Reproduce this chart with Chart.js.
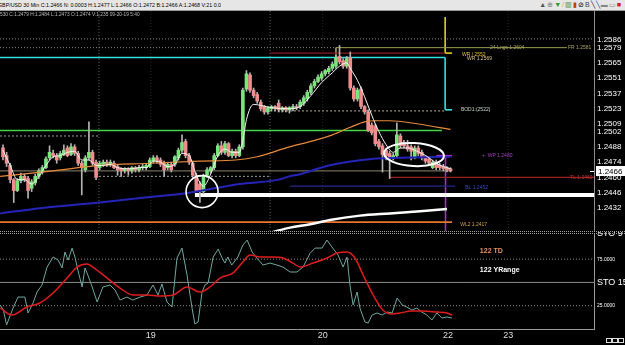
<!DOCTYPE html>
<html>
<head>
<meta charset="utf-8">
<script src="https://cdn.jsdelivr.net/npm/chart.js@4.4.0/dist/chart.umd.min.js"></script>
<style>
  body { margin: 0; background: #000; width: 625px; height: 345px; overflow: hidden; position: relative; font-family: "Liberation Sans", Arial, sans-serif; }
  #toolbar { position: absolute; left: 0; top: 0; width: 625px; height: 10px; background: #e6e6e6; border-bottom: 1px solid #9a9a9a; }
  #quote { position: absolute; left: -2px; top: 2px; font-size: 5.3px; color: #000; white-space: nowrap; }
  #icons { position: absolute; right: 4px; top: 0px; font-size: 7px; line-height: 10px; white-space: nowrap; }
  #icons span { margin-left: 1px; }
  #info { position: absolute; left: 0; top: 12px; font-size: 4.8px; color: #bbb; white-space: nowrap; z-index: 3; }
  #price { position: absolute; left: 0; top: 11px; }
  #osc { position: absolute; left: 0; top: 232px; }
  #split { position: absolute; left: 0; top: 231px; width: 625px; height: 1px; border-top: 1px dotted #a0a0a0; border-bottom: 1px dotted #a0a0a0; z-index: 2; }
  #boxes { position: absolute; left: 606px; top: 329px; z-index: 2; }
  #boxes i { display: inline-block; width: 4px; height: 3px; border: 1px solid #ddd; margin-right: 0px; }
</style>
</head>
<body>
<div id="toolbar">
  <div id="quote">GBP/USD 30 Min C:1.2466 N: 0.0003 H:1.2477 L:1.2466 O:1.2472 B:1.2466 A:1.2468 V:21 0.0</div>
  <div id="icons"><span style="color:#555">&#9650;</span><span style="color:#777">&#8853;</span><span style="color:#2a9a2a">&#9660;</span><span style="color:#d8b000">/</span><span style="color:#3a8a3a">&#9637;</span><span style="color:#c04000">&#9646;</span><span style="color:#000">&#8856;</span><span style="color:#444">B</span><span style="color:#222">&#9586;</span><span style="color:#2040c0">&#9586;</span><span style="color:#888">&#9644;</span><span style="color:#888">&#9645;</span><span style="color:#d02020">&#9632;</span></div>
</div>
<div id="info">530 C:1.2479 H:1.2484 L:1.2473 O:1.2474 V:1,235 09-20-19 5:40</div>
<canvas id="price" width="625" height="220"></canvas>
<div id="split"></div>
<canvas id="osc" width="625" height="113"></canvas>
<div id="boxes"><i></i><i></i><i></i></div>

<script>
// Candles, one per 30 min bar (bar number = position in the arrays)
const openP = [1.2487,1.2480,1.2471,1.2458,1.2448,1.2457,1.2461,1.2459,1.2450,1.2455,1.2461,1.2465,1.2469,1.2478,1.2482,1.2480,1.2478,1.2481,1.2487,1.2481,
  1.2488,1.2482,1.2473,1.2467,1.2478,1.2483,1.2474,1.2469,1.2472,1.2474,1.2472,1.2473,1.2470,1.2468,1.2466,1.2468,1.2466,1.2469,1.2467,1.2469,
  1.2469,1.2470,1.2475,1.2478,1.2476,1.2473,1.2469,1.2472,1.2472,1.2478,1.2485,1.2493,1.2480,1.2473,1.2462,1.2454,1.2447,1.2462,1.2466,1.2469,
  1.2480,1.2489,1.2483,1.2491,1.2480,1.2484,1.2480,1.2488,1.2541,1.2554,1.2540,1.2536,1.2529,1.2525,1.2520,1.2523,1.2525,1.2528,1.2522,1.2524,
  1.2522,1.2523,1.2525,1.2525,1.2528,1.2532,1.2538,1.2544,1.2548,1.2551,1.2555,1.2557,1.2560,1.2562,1.2571,1.2567,1.2562,1.2570,1.2542,1.2532,
  1.2541,1.2525,1.2520,1.2508,1.2507,1.2493,1.2489,1.2485,1.2482,1.2478,1.2480,1.2498,1.2492,1.2489,1.2488,1.2479,1.2487,1.2483,1.2479,1.2477,
  1.2469,1.2474,1.2471,1.2470,1.2469,1.2468];
const highP = [1.2490,1.2483,1.2473,1.2459,1.2459,1.2464,1.2463,1.2461,1.2458,1.2463,1.2468,1.2471,1.2479,1.2489,1.2485,1.2482,1.2484,1.2490,1.2489,1.2491,
  1.2490,1.2484,1.2475,1.2480,1.2511,1.2485,1.2476,1.2475,1.2476,1.2476,1.2476,1.2475,1.2472,1.2469,1.2469,1.2469,1.2470,1.2470,1.2471,1.2472,
  1.2473,1.2478,1.2480,1.2480,1.2478,1.2475,1.2474,1.2474,1.2480,1.2487,1.2499,1.2495,1.2482,1.2475,1.2464,1.2456,1.2463,1.2469,1.2470,1.2482,
  1.2491,1.2493,1.2493,1.2492,1.2486,1.2486,1.2490,1.2542,1.2558,1.2556,1.2542,1.2538,1.2531,1.2526,1.2525,1.2526,1.2526,1.2531,1.2525,1.2525,
  1.2525,1.2527,1.2527,1.2531,1.2535,1.2540,1.2546,1.2550,1.2554,1.2557,1.2559,1.2562,1.2566,1.2572,1.2581,1.2569,1.2571,1.2575,1.2544,1.2542,
  1.2543,1.2526,1.2522,1.2510,1.2509,1.2495,1.2491,1.2487,1.2484,1.2482,1.2510,1.2500,1.2494,1.2494,1.2490,1.2489,1.2489,1.2485,1.2480,1.2479,
  1.2476,1.2476,1.2473,1.2472,1.2470,1.2469];
const lowP = [1.2476,1.2470,1.2455,1.2437,1.2447,1.2455,1.2456,1.2441,1.2447,1.2453,1.2459,1.2463,1.2468,1.2476,1.2478,1.2473,1.2476,1.2480,1.2479,1.2480,
  1.2480,1.2471,1.2444,1.2465,1.2476,1.2471,1.2458,1.2467,1.2470,1.2470,1.2470,1.2468,1.2462,1.2461,1.2464,1.2462,1.2464,1.2465,1.2465,1.2467,
  1.2467,1.2469,1.2473,1.2473,1.2470,1.2461,1.2467,1.2465,1.2470,1.2476,1.2483,1.2478,1.2472,1.2460,1.2447,1.2437,1.2445,1.2460,1.2464,1.2467,
  1.2479,1.2481,1.2481,1.2479,1.2478,1.2478,1.2479,1.2486,1.2539,1.2538,1.2533,1.2528,1.2521,1.2518,1.2518,1.2521,1.2521,1.2520,1.2520,1.2520,
  1.2519,1.2521,1.2522,1.2523,1.2526,1.2530,1.2536,1.2542,1.2547,1.2549,1.2553,1.2555,1.2558,1.2560,1.2564,1.2560,1.2560,1.2540,1.2530,1.2530,
  1.2523,1.2518,1.2502,1.2499,1.2489,1.2486,1.2465,1.2476,1.2459,1.2476,1.2479,1.2487,1.2487,1.2484,1.2476,1.2477,1.2480,1.2476,1.2473,1.2471,
  1.2468,1.2467,1.2467,1.2466,1.2465,1.2465];
const closeP = [1.2479,1.2473,1.2458,1.2448,1.2457,1.2461,1.2458,1.2448,1.2456,1.2461,1.2466,1.2469,1.2477,1.2483,1.2480,1.2476,1.2482,1.2485,1.2480,1.2488,
  1.2482,1.2473,1.2469,1.2478,1.2483,1.2473,1.2460,1.2473,1.2474,1.2472,1.2474,1.2469,1.2467,1.2466,1.2468,1.2466,1.2469,1.2467,1.2469,1.2470,
  1.2471,1.2476,1.2478,1.2475,1.2472,1.2467,1.2472,1.2467,1.2479,1.2485,1.2492,1.2480,1.2474,1.2462,1.2448,1.2447,1.2461,1.2467,1.2469,1.2480,
  1.2489,1.2483,1.2491,1.2480,1.2484,1.2480,1.2488,1.2540,1.2555,1.2540,1.2535,1.2530,1.2523,1.2520,1.2524,1.2525,1.2523,1.2522,1.2524,1.2522,
  1.2524,1.2525,1.2524,1.2529,1.2533,1.2538,1.2544,1.2548,1.2552,1.2555,1.2558,1.2560,1.2564,1.2570,1.2566,1.2562,1.2569,1.2542,1.2532,1.2540,
  1.2525,1.2520,1.2503,1.2501,1.2491,1.2488,1.2481,1.2480,1.2478,1.2480,1.2499,1.2489,1.2489,1.2486,1.2484,1.2487,1.2482,1.2478,1.2475,1.2473,
  1.2474,1.2469,1.2469,1.2468,1.2467,1.2466];

// Moving averages, read as (bar, price) pairs
const fastMaBars = [0,2,4,6,8,10,12,14,16,18,20,22,24,26,28,30,32,34,36,38,40,42,44,46,48,50,52,54,56,58,60,62,64,66,67,68,70,72,75,80,
  83,86,89,92,94,96,97,99,101,103,105,107,109,111,113,115,117,119,121,123,125];
const fastMaVals = [1.2485,1.2471,1.2458,1.2458,1.2454,1.2461,1.2471,1.2479,1.2480,1.2483,1.2484,1.2476,1.2476,1.2471,1.2471,1.2472,1.2469,1.2468,1.2468,1.2469,
  1.2469,1.2475,1.2474,1.2470,1.2472,1.2482,1.2480,1.2462,1.2452,1.2463,1.2480,1.2486,1.2483,1.2483,1.2494,1.2513,1.2527,1.2526,1.2524,1.2523,
  1.2525,1.2535,1.2547,1.2556,1.2562,1.2565,1.2560,1.2549,1.2534,1.2517,1.2502,1.2490,1.2483,1.2487,1.2487,1.2485,1.2482,1.2478,1.2473,1.2470,1.2468];
const midMaBars = [-0.8,14,27,41,55,65,71,80,86,92,97,101,104,108,116,125];
const midMaVals = [1.2461,1.2466,1.2471,1.2473,1.2475,1.2476,1.2479,1.2488,1.2493,1.2499,1.2506,1.2511,1.2512,1.2512,1.2509,1.2504];
const blueMaBars = [-0.8,11,27,41,52,66,77,80,83,91,103,111,125];
const blueMaVals = [1.2427,1.2432,1.2437,1.2442,1.2446,1.2454,1.2458,1.2461,1.2463,1.2471,1.2477,1.2478,1.2479];
const longMaBars = [75.4,80.2,85.8,91.3,99.7,108.1,116.5,124.0];
const longMaVals = [1.2410,1.2414,1.2417,1.2421,1.2425,1.2427,1.2429,1.2431];

// Horizontal levels: price and the bars they run between
const levelPrice = [1.2587,1.2579,1.2579,1.2574,1.2570,1.2522,1.2521,1.2503,1.2498,1.2466,1.2461,1.2460,1.2452,1.2444,1.2419,1.2480,1.2574];
const levelFrom  = [-0.84,-0.84,93.0,74.6,-0.84,123.5,74.6,-0.84,-0.84,-0.84,26.8,108.1,80.2,53.6,-0.84,121.0,123.5];
const levelTo    = [165.1,93.0,157.5,123.5,123.5,125.4,123.5,122.6,26.8,125.4,74.6,165.1,126.3,165.1,125.4,125.4,125.4];
// Vertical strokes: bar, from price, to price
const vertBar  = [123.5,123.5,123.6,93.0,26.8,74.6,41.3,89.3,141.1];
const vertFrom = [1.2570,1.2607,1.2480,1.2579,1.2411,1.2411,1.2411,1.2411,1.2411];
const vertTo   = [1.2522,1.2574,1.2411,1.2569,1.2613,1.2613,1.2613,1.2613,1.2613];

// Tags written next to the levels
const noteTexts  = ['24-Lngs 1.2604','FR 1.2581','WR / 2552','WR 1.2569','BOD1:(2522)','+  WP 1.2480','TL 1.2460','BL 1.2452','WL2 1.2417'];
const noteBars   = [136.0,157.8,128.2,129.6,127.9,133.8,158.4,129.1,127.7];
const notePrices = [1.2579,1.2579,1.2573,1.2569,1.2522,1.2480,1.2460,1.2451,1.2417];

// Marked spots: the swing low and the consolidation
const ringBar = 55.6, ringPrice = 1.2447;
const ovalBar = 114.8, ovalPrice = 1.2481;

// Price axis
const priceTicks = [1.2586,1.2579,1.2565,1.2551,1.2537,1.2523,1.2509,1.2502,1.2488,1.2474,1.2460,1.2446,1.2432];
const priceMin = 1.24109, priceMax = 1.26126;

// Time axis (bar numbers) and day labels
const barMin = -0.84, barMax = 165.08;
const dayTickBars = [41.3, 89.3, 124.3, 141.1];
const dayLabels = ['19', '20', '22', '23'];

// Stochastic panel
const stoFastBars = [-0.8,0.1,1.0,2.8,4.2,6.1,7.0,8.4,9.5,10.9,12.3,14.0,15.4,16.5,17.3,18.2,19.3,20.1,20.9,22.1,22.9,23.7,24.9,26.3,27.9,29.9,31.3,32.7,34.6,36.3,
  38.3,40.2,41.9,43.3,44.4,45.8,47.2,48.6,50.0,51.4,52.8,53.6,54.5,55.6,56.4,57.3,58.7,60.1,61.2,62.0,62.8,63.9,65.6,67.0,68.2,69.6,70.9,72.6,74.6,76.5,
  78.2,80.2,82.1,83.8,85.8,87.2,89.1,90.5,91.9,93.6,95.0,96.1,96.9,97.8,98.9,99.7,101.1,102.0,103.1,104.5,105.9,107.3,108.7,110.1,111.5,112.8,114.2,115.6,117.0,118.4,
  119.8,121.2,122.6,124.0,125.4];
const stoFastVals = [25.8,20.4,4.3,22.5,34.3,34.3,17.2,27.9,39.7,47.2,66.5,77.3,74.0,65.5,82.6,74.0,86.9,77.3,63.3,45.1,65.5,57.9,45.1,29.0,45.1,47.2,41.8,31.1,34.3,31.1,
  34.3,36.5,47.2,36.5,48.3,29.0,23.6,76.2,86.9,57.9,22.5,5.4,7.5,39.7,47.2,49.4,77.3,85.8,76.2,70.8,77.3,68.7,77.3,90.1,95.5,82.6,76.2,68.7,70.8,68.7,
  66.5,61.2,61.2,66.5,81.5,86.9,86.9,95.5,88.0,79.4,66.5,77.3,47.2,25.8,39.7,22.5,7.5,6.4,15.0,17.2,15.0,18.2,17.2,33.3,25.8,23.6,20.4,22.5,18.2,15.0,
  9.7,17.2,11.8,12.9,11.8];
const stoSlowBars = [-0.8,2.5,6.7,10.3,14.0,17.9,20.7,23.5,25.1,29.1,32.7,36.3,40.2,43.9,47.5,51.4,55.0,57.8,60.6,64.2,67.0,69.0,71.8,75.4,78.2,81.0,83.0,86.6,90.5,93.3,
  96.1,98.3,100.6,103.4,106.1,108.7,110.9,114.2,117.3,121.2,124.0,125.4];
const stoSlowVals = [22.5,15.0,23.6,27.9,38.6,54.7,66.5,69.7,66.5,54.7,44.0,36.5,36.5,35.4,36.5,45.1,39.7,45.1,54.7,60.1,71.9,79.4,77.3,77.3,76.2,70.8,66.5,70.8,76.2,81.5,
  82.6,76.2,57.9,36.5,20.4,16.1,17.2,19.3,19.3,18.2,17.2,15.0];
const stoGuides = [75, 50, 25];
const stoTicks = [25, 50, 75, 102];
const stoTickLabels = ['25.0000', 'STO 15', '75.0000', 'STO 9'];
const stoNotes = ['122 TD', '122 YRange'];
const stoNoteBars = [133.2, 133.2];
const stoNoteVals = [83.7, 63.8];

const FONT = '"Liberation Sans", Arial, sans-serif';

// Looks for the levels and verticals (same order as the arrays above)
const levelLook = [
  { c: '#8a8a8a', w: 1, d: [1, 2] },
  { c: '#8a8a8a', w: 1, d: [1, 2] },
  { c: '#9c9c50', w: 1, d: [] },
  { c: '#8c1c1c', w: 1.2, d: [] },
  { c: '#33e0e0', w: 1.6, d: [] },
  { c: '#33e0e0', w: 1.6, d: [] },
  { c: '#b8b098', w: 1, d: [2, 2] },
  { c: '#44d444', w: 1.5, d: [] },
  { c: '#a0a0a0', w: 1, d: [2, 2] },
  { c: '#8c8468', w: 1, d: [] },
  { c: '#a0a0a0', w: 1, d: [2, 2] },
  { c: '#9c2020', w: 1.2, d: [] },
  { c: '#26268e', w: 1.2, d: [] },
  { c: '#ffffff', w: 4, d: [] },
  { c: '#e87830', w: 1.6, d: [] },
  { c: '#b030d0', w: 1.5, d: [] },
  { c: '#e8e020', w: 1.5, d: [] }
];
const vertLook = [
  { c: '#33e0e0', w: 1.6, d: [] },
  { c: '#e8e020', w: 1.5, d: [] },
  { c: '#b030d0', w: 1.5, d: [] },
  { c: '#9c9c50', w: 1, d: [] },
  { c: '#6a6a6a', w: 1, d: [1, 2] },
  { c: '#6a6a6a', w: 1, d: [1, 2] },
  { c: '#2c2c2c', w: 1, d: [1, 2] },
  { c: '#2c2c2c', w: 1, d: [1, 2] },
  { c: '#2c2c2c', w: 1, d: [1, 2] }
];
const noteColors = ['#a8a860','#a8a860','#e0c020','#d8c080','#c8d8c8','#a040c0','#c03030','#3848c8','#d0a040'];

const segment = (pts, look, order) => ({
  type: 'line',
  data: pts,
  borderColor: look.c,
  borderWidth: look.w,
  borderDash: look.d,
  pointRadius: 0,
  order: order
});

const pairs = (xs, ys) => xs.map((x, i) => ({ x: x, y: ys[i] }));

// Candle datasets
const wickData = highP.map((h, i) => ({ x: i, y: [lowP[i], h] }));
const bodyData = openP.map((o, i) => ({ x: i, y: [o, closeP[i]] }));
const bodyColors = openP.map((o, i) => closeP[i] >= o ? '#7ae67a' : '#f08c8c');

const levelSets = levelPrice.map((p, k) => segment([{ x: levelFrom[k], y: p }, { x: levelTo[k], y: p }], levelLook[k], 30));
const vertSets = vertBar.map((b, k) => segment([{ x: b, y: vertFrom[k] }, { x: b, y: vertTo[k] }], vertLook[k], 31));

const maLine = (xs, ys, color, width, order) => ({
  type: 'line',
  data: pairs(xs, ys),
  borderColor: color,
  borderWidth: width,
  pointRadius: 0,
  cubicInterpolationMode: 'monotone',
  order: order
});

const priceNotes = {
  id: 'priceNotes',
  afterDatasetsDraw(chart) {
    const { ctx, scales: { x, y } } = chart;
    ctx.save();
    ctx.strokeStyle = '#ffffff';
    ctx.lineWidth = 1.6;
    ctx.beginPath();
    ctx.arc(x.getPixelForValue(ringBar), y.getPixelForValue(ringPrice), 16, 0, Math.PI * 2);
    ctx.stroke();
    ctx.lineWidth = 2;
    ctx.beginPath();
    ctx.ellipse(x.getPixelForValue(ovalBar), y.getPixelForValue(ovalPrice), 30, 11.5, 0.05, 0, Math.PI * 2);
    ctx.stroke();

    ctx.font = '5px ' + FONT;
    ctx.textBaseline = 'middle';
    noteTexts.forEach((t, k) => {
      ctx.fillStyle = noteColors[k];
      ctx.fillText(t, x.getPixelForValue(noteBars[k]), y.getPixelForValue(notePrices[k]));
    });
    ctx.restore();
  },
  afterDraw(chart) {
    // last price tag on the axis
    const { ctx, chartArea, scales: { y } } = chart;
    const last = closeP[closeP.length - 1];
    const py = Math.round(y.getPixelForValue(last));
    ctx.save();
    ctx.fillStyle = '#ffffff';
    ctx.fillRect(chartArea.right + 2, py - 5, 29, 10);
    ctx.fillRect(chartArea.right - 4, py, 4, 1);
    ctx.fillStyle = '#000000';
    ctx.font = '8px ' + FONT;
    ctx.textBaseline = 'middle';
    ctx.fillText(last.toFixed(4), chartArea.right + 4, py + 0.5);
    ctx.restore();
  }
};

new Chart(document.getElementById('price'), {
  type: 'bar',
  data: {
    datasets: [
      ...levelSets,
      ...vertSets,
      { type: 'bar', data: wickData, backgroundColor: '#b4b4b4', barThickness: 1, grouped: false, order: 20 },
      { type: 'bar', data: bodyData, backgroundColor: bodyColors, barThickness: 3, grouped: false, order: 19 },
      maLine(blueMaBars, blueMaVals, '#2424b8', 2, 12),
      maLine(midMaBars, midMaVals, '#e88a3a', 1.2, 11),
      maLine(longMaBars, longMaVals, '#ffffff', 2.5, 10),
      maLine(fastMaBars, fastMaVals, '#f4f4f4', 1, 9)
    ]
  },
  options: {
    responsive: false,
    animation: false,
    layout: { padding: 0 },
    plugins: { legend: { display: false }, tooltip: { enabled: false } },
    scales: {
      x: { type: 'linear', display: false, min: barMin, max: barMax, offset: false },
      y: {
        position: 'right',
        min: priceMin,
        max: priceMax,
        grid: { display: false, drawTicks: false },
        border: { display: true, color: '#8c8c8c' },
        ticks: { color: '#ffffff', font: { family: FONT, size: 8 }, padding: 3, autoSkip: false, callback: v => v.toFixed(4) },
        afterBuildTicks: s => { s.ticks = priceTicks.map(v => ({ value: v })); },
        afterFit: s => { s.width = 31; s.paddingTop = 0; s.paddingBottom = 0; }
      }
    }
  },
  plugins: [priceNotes]
});

const oscNotes = {
  id: 'oscNotes',
  afterDatasetsDraw(chart) {
    const { ctx, scales: { x, y } } = chart;
    ctx.save();
    ctx.font = 'bold 7px ' + FONT;
    ctx.textBaseline = 'middle';
    stoNotes.forEach((t, k) => {
      ctx.fillStyle = k === 0 ? '#e8905a' : '#ffffff';
      ctx.fillText(t, x.getPixelForValue(stoNoteBars[k]), y.getPixelForValue(stoNoteVals[k]));
    });
    ctx.restore();
  }
};

new Chart(document.getElementById('osc'), {
  type: 'line',
  data: {
    datasets: [
      ...stoGuides.map(v => segment([{ x: barMin, y: v }, { x: barMax, y: v }],
        { c: '#8c8c8c', w: 1, d: v === 50 ? [] : [1, 2] }, 20)),
      { data: pairs(stoFastBars, stoFastVals), borderColor: '#6ea8a0', borderWidth: 1, pointRadius: 0, tension: 0, order: 2 },
      { data: pairs(stoSlowBars, stoSlowVals), borderColor: '#e01c1c', borderWidth: 1.5, pointRadius: 0, cubicInterpolationMode: 'monotone', order: 1 }
    ]
  },
  options: {
    responsive: false,
    animation: false,
    layout: { padding: { top: 2 } },
    plugins: { legend: { display: false }, tooltip: { enabled: false } },
    scales: {
      x: {
        type: 'linear',
        min: barMin,
        max: barMax,
        grid: { display: false, drawTicks: false },
        border: { display: true, color: '#9a9a9a' },
        ticks: { color: '#dddddd', font: { family: FONT, size: 9 }, padding: 1, autoSkip: false, maxRotation: 0,
          callback: (v, i) => dayLabels[i] },
        afterBuildTicks: s => { s.ticks = dayTickBars.map(v => ({ value: v })); },
        afterFit: s => { s.height = 16; s.paddingLeft = 0; s.paddingRight = 0; }
      },
      y: {
        position: 'right',
        min: 0,
        max: 102,
        grid: { display: false, drawTicks: false },
        border: { display: true, color: '#9a9a9a' },
        ticks: {
          color: '#ffffff',
          padding: 3,
          autoSkip: false,
          font: c => ({ family: FONT, size: (c.tick && (c.tick.value === 50 || c.tick.value === 102)) ? 9 : 5 }),
          callback: (v, i) => stoTickLabels[i]
        },
        afterBuildTicks: s => { s.ticks = stoTicks.map(v => ({ value: v })); },
        afterFit: s => { s.width = 31; s.paddingTop = 0; s.paddingBottom = 0; }
      }
    }
  },
  plugins: [oscNotes]
});
</script>
</body>
</html>
